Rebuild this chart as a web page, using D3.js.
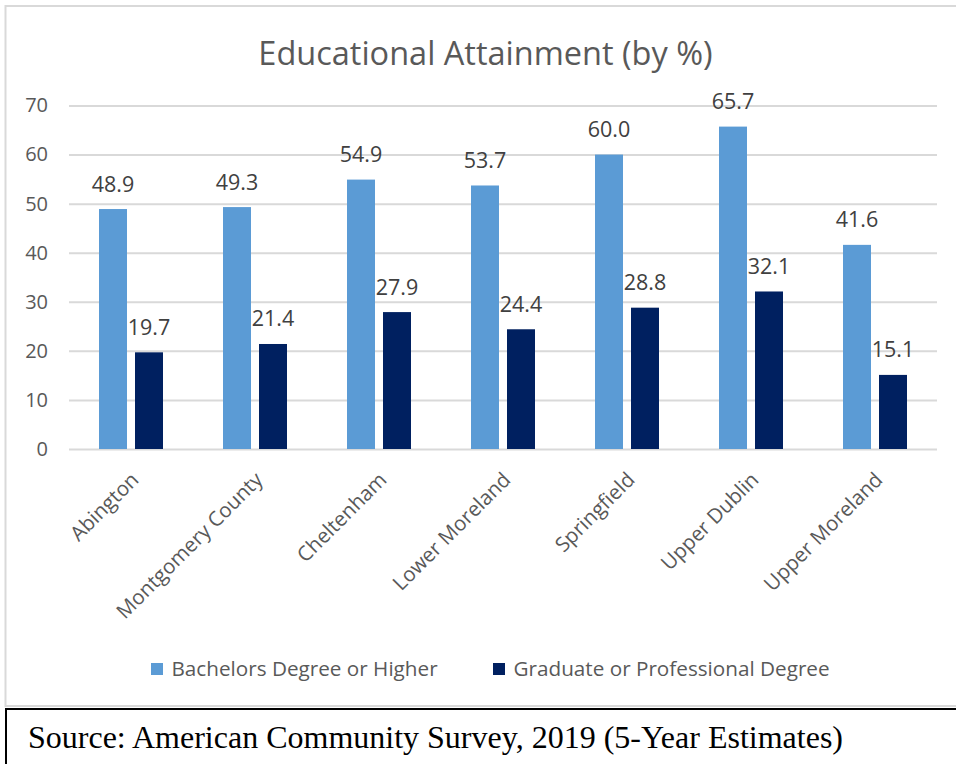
<!DOCTYPE html>
<html>
<head>
<meta charset="utf-8">
<script src="https://cdn.jsdelivr.net/npm/d3@7"></script>
<style>
  html, body { margin: 0; padding: 0; background: #ffffff; }
  svg { display: block; }
</style>
</head>
<body>
<svg id="chart" width="956" height="764"></svg>
<script>
// Municipalities shown along the x axis
const categories = ["Abington", "Montgomery County", "Cheltenham", "Lower Moreland", "Springfield", "Upper Dublin", "Upper Moreland"];
// Share of residents 25+ by highest degree (%)
const bachelorsOrHigher = [48.9, 49.3, 54.9, 53.7, 60.0, 65.7, 41.6];
const graduateOrProfessional = [19.7, 21.4, 27.9, 24.4, 28.8, 32.1, 15.1];
const seriesNames = ["Bachelors Degree or Higher", "Graduate or Professional Degree"];
const seriesColors = ["#5B9BD5", "#002060"];
const yTicks = [0, 10, 20, 30, 40, 50, 60, 70];
const chartTitle = "Educational Attainment (by %)";
const sourceNote = "Source: American Community Survey, 2019 (5-Year Estimates)";

const svg = d3.select("#chart");
const sans = "'Open Sans', 'Noto Sans', sans-serif";
const gray = "#595959";

// Frame around the chart area
svg.append("rect")
  .attr("x", 5.5).attr("y", 6).attr("width", 960).attr("height", 700)
  .attr("fill", "#ffffff").attr("stroke", "#d9d9d9").attr("stroke-width", 2);

// Source box underneath
svg.append("rect")
  .attr("x", 6).attr("y", 709).attr("width", 960).attr("height", 100)
  .attr("fill", "#ffffff").attr("stroke", "#000000").attr("stroke-width", 2);

svg.append("text")
  .attr("x", 28).attr("y", 748)
  .attr("font-family", "'Liberation Serif', 'Times New Roman', serif")
  .attr("font-size", 32)
  .attr("fill", "#000000")
  .text(sourceNote);

// Title
svg.append("text")
  .attr("x", 485.5).attr("y", 65)
  .attr("text-anchor", "middle")
  .attr("font-family", sans)
  .attr("font-size", 32.5)
  .attr("fill", gray)
  .text(chartTitle);

const plot = { left: 69, right: 937, top: 105.5, bottom: 449 };

const y = d3.scaleLinear().domain([0, 70]).range([plot.bottom, plot.top]);

const x0 = d3.scaleBand()
  .domain(categories)
  .range([plot.left, plot.right])
  .paddingInner(60 / 124)
  .paddingOuter(30 / 124);

const x1 = d3.scaleBand()
  .domain(seriesNames)
  .range([0, x0.bandwidth()])
  .paddingInner(0.2222);

// Horizontal gridlines with tick labels (no axis line)
const yAxis = d3.axisLeft(y)
  .tickValues(yTicks)
  .tickSize(-(plot.right - plot.left))
  .tickPadding(21)
  .tickFormat(d3.format("d"));

const gy = svg.append("g")
  .attr("transform", `translate(${plot.left},0)`)
  .call(yAxis);
gy.select(".domain").remove();
gy.selectAll(".tick line").attr("stroke", "#d9d9d9").attr("stroke-width", 2);
gy.selectAll(".tick text")
  .attr("font-family", sans)
  .attr("font-size", 20)
  .attr("fill", gray);

// Bars
const rows = categories.map((c, i) => ({
  category: c,
  values: [bachelorsOrHigher[i], graduateOrProfessional[i]]
}));

const groups = svg.append("g").selectAll("g")
  .data(rows)
  .join("g")
  .attr("transform", d => `translate(${x0(d.category)},0)`);

groups.selectAll("rect")
  .data(d => d.values.map((v, k) => ({ key: seriesNames[k], value: v, k })))
  .join("rect")
  .attr("x", d => x1(d.key))
  .attr("y", d => y(d.value))
  .attr("width", x1.bandwidth())
  .attr("height", d => y(0) - y(d.value))
  .attr("fill", d => seriesColors[d.k]);

// Value labels above each bar
groups.selectAll("text.value")
  .data(d => d.values.map((v, k) => ({ key: seriesNames[k], value: v })))
  .join("text")
  .attr("class", "value")
  .attr("x", d => x1(d.key) + x1.bandwidth() / 2)
  .attr("y", d => y(d.value) - 17.5)
  .attr("text-anchor", "middle")
  .attr("font-family", sans)
  .attr("font-size", 21.5)
  .attr("fill", "#404040")
  .text(d => d3.format(".1f")(d.value));

// Rotated category labels
svg.append("g").selectAll("text")
  .data(categories)
  .join("text")
  .attr("transform", d => `translate(${x0(d) + x0.bandwidth() / 2 + 9},${plot.bottom + 32}) rotate(-45)`)
  .attr("text-anchor", "end")
  .attr("font-family", sans)
  .attr("font-size", 20.5)
  .attr("fill", gray)
  .text(d => d);

// Legend
const legendItems = [
  { name: seriesNames[0], color: seriesColors[0], x: 151 },
  { name: seriesNames[1], color: seriesColors[1], x: 493 }
];
const legend = svg.append("g").selectAll("g")
  .data(legendItems)
  .join("g")
  .attr("transform", d => `translate(${d.x},663)`);
legend.append("rect")
  .attr("width", 12).attr("height", 12)
  .attr("fill", d => d.color);
legend.append("text")
  .attr("x", 20.5).attr("y", 12.5)
  .attr("font-family", sans)
  .attr("font-size", 20.7)
  .attr("fill", gray)
  .text(d => d.name);
</script>
</body>
</html>
